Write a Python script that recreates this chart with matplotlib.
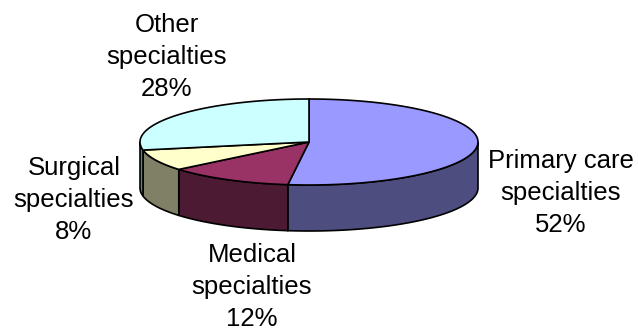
import numpy as np
import matplotlib.pyplot as plt

# Share of physicians by specialty group
labels = ["Primary care\nspecialties", "Medical\nspecialties",
          "Surgical\nspecialties", "Other\nspecialties"]
shares = [52, 12, 8, 28]
top_colors = ["#9999FF", "#993366", "#FFFFCC", "#CCFFFF"]
side_colors = ["#4D4D80", "#4D1A33", "#808066", "#668080"]

# pie geometry in pixel units
cx, cy = 309, 142
rx, ry = 169, 43
depth = 46
label_pos = [(561, 193), (252, 287), (74, 200), (167, 57)]

plt.rcParams['font.family'] = ['Liberation Sans', 'DejaVu Sans']

fig = plt.figure(figsize=(6.38, 3.32), dpi=100)
ax = fig.add_axes([0, 0, 1, 1])
ax.set_xlim(0, 638)
ax.set_ylim(332, 0)
ax.axis("off")


def ellipse_pts(t0, t1, n=80):
    t = np.radians(np.linspace(t0, t1, n))
    return cx + rx * np.cos(t), cy - ry * np.sin(t)


# slices run clockwise from 12 o'clock
fracs = np.array(shares) / sum(shares)
ends = 90 - 360 * np.cumsum(fracs)
starts = np.concatenate([[90], ends[:-1]])

# rim (front half only, angles between -180 and 0)
for s, e, col in zip(starts, ends, side_colors):
    lo, hi = max(e, -180), min(s, 0)
    if lo >= hi:
        continue
    x, y = ellipse_pts(hi, lo)
    xs = np.concatenate([x, x[::-1]])
    ys = np.concatenate([y, y[::-1] + depth])
    ax.fill(xs, ys, facecolor=col, edgecolor="black", linewidth=1.2)

# top faces
for s, e, col in zip(starts, ends, top_colors):
    x, y = ellipse_pts(s, e)
    ax.fill(np.concatenate([[cx], x]), np.concatenate([[cy], y]),
            facecolor=col, edgecolor="black", linewidth=1.2)

for lab, v, (lx, ly) in zip(labels, shares, label_pos):
    ax.text(lx, ly, f"{lab}\n{v}%", ha="center", va="center",
            fontsize=18.5, linespacing=1.4)

fig.savefig("out.png", dpi=100)
